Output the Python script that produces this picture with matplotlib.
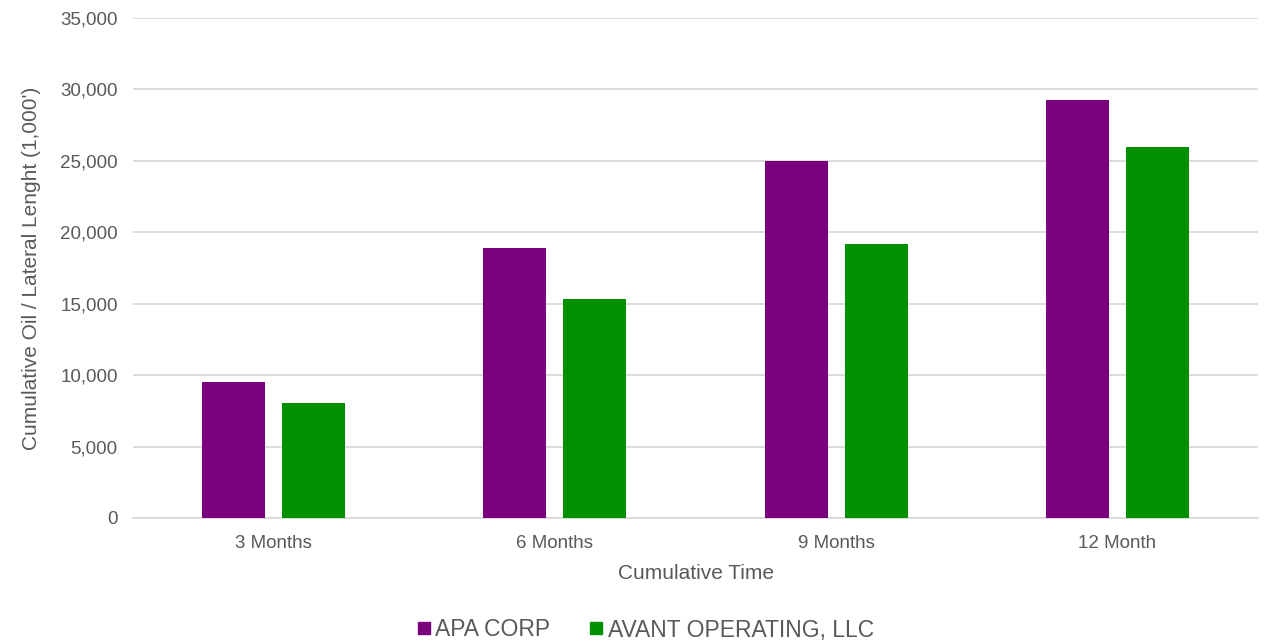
import matplotlib
matplotlib.use("Agg")
import matplotlib.pyplot as plt
import numpy as np
from matplotlib.lines import Line2D

categories = ["3 Months", "6 Months", "9 Months", "12 Month"]
apa = [9500, 18880, 25020, 29240]
avant = [8030, 15350, 19160, 25950]
series_names = ["APA CORP", "AVANT OPERATING, LLC"]
colors = ["#7B007B", "#009000"]
yticks = [0, 5000, 10000, 15000, 20000, 25000, 30000, 35000]

plt.rcParams['font.family'] = ['Liberation Sans', 'DejaVu Sans']
txt = "#595959"

fig = plt.figure(figsize=(12.66, 6.44), dpi=100)
ax = fig.add_axes([133/1266, 1-518/644, (1258-133)/1266, 500/644])

x = np.arange(len(categories))
w = 0.224
off = 0.142
ax.bar(x - off, apa, width=w, color=colors[0], zorder=3)
ax.bar(x + off, avant, width=w, color=colors[1], zorder=3)

ax.set_xlim(-0.5, len(categories) - 0.5)
ax.set_ylim(0, 35000)
ax.set_yticks(yticks)
ax.set_yticklabels([f"{v:,}" for v in yticks])
ax.set_xticks(x)
ax.set_xticklabels(categories)
ax.tick_params(axis='both', length=0, labelsize=13.5, colors=txt)
ax.tick_params(axis='y', pad=11)
ax.tick_params(axis='x', pad=12)
ax.grid(axis='y', color="#d9d9d9", linewidth=1.3, zorder=0)
for s in ["top", "right", "left"]:
    ax.spines[s].set_visible(False)
ax.spines["bottom"].set_color("#d9d9d9")
ax.spines["bottom"].set_linewidth(1.3)

ax.set_xlabel("Cumulative Time", fontsize=15, color=txt, labelpad=9)
ax.set_ylabel("Cumulative Oil / Lateral Lenght (1,000')", fontsize=15, color=txt, labelpad=14)

handles = [Line2D([], [], marker='s', linestyle='none', markersize=9, color=c) for c in colors]
fig.legend(handles, series_names, loc='center', bbox_to_anchor=(643/1266, 1-630/644),
           ncol=2, frameon=False, fontsize=16.5, labelcolor=txt, handletextpad=0.0,
           columnspacing=1.5, handlelength=1.0)

fig.savefig("out.png", dpi=100)
